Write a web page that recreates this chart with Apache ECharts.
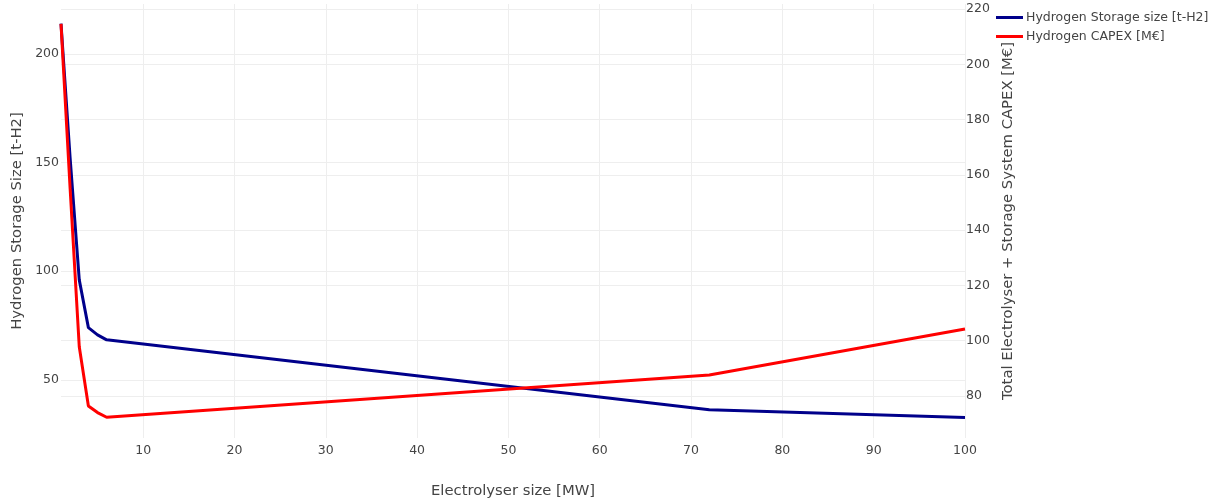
<!DOCTYPE html>
<html>
<head>
<meta charset="utf-8">
<script src="https://cdn.jsdelivr.net/npm/echarts@6/dist/echarts.min.js"></script>
<style>
  html, body { margin: 0; padding: 0; background: #fff; }
  #main { width: 1212px; height: 501px; }
</style>
</head>
<body>
<div id="main"></div>
<script>
// electrolyser size [MW]
const electrolyser = [1, 2, 3, 4, 5, 6, 72, 100];
// hydrogen storage size [t-H2] (left axis)
const storageSize = [214, 152, 96, 74, 70.7, 68.4, 36.2, 32.6];
// total CAPEX [M€] (right axis)
const capex = [214.6, 155, 97.8, 76.4, 74.0, 72.3, 87.6, 104.2];

const xTicks = [10, 20, 30, 40, 50, 60, 70, 80, 90, 100];
const leftTicks = [50, 100, 150, 200];
const rightTicks = [80, 100, 120, 140, 160, 180, 200, 220];

const font = 'DejaVu Sans, Verdana, sans-serif';
const grey = '#444';
const gridColor = '#eeeeee';

const chart = echarts.init(document.getElementById('main'));
chart.setOption({
  animation: false,
  textStyle: {fontFamily: font},
  grid: {left: 61, right: 247, top: 4, bottom: 63, containLabel: false, outerBoundsMode: 'none'},
  legend: {
    left: 991, top: 6, orient: 'vertical',
    icon: 'rect', itemWidth: 27, itemHeight: 3, itemGap: 6,
    textStyle: {color: grey, fontSize: 12.5, fontFamily: font, padding: [0, 0, 0, -2]},
    data: ['Hydrogen Storage size [t-H2]', 'Hydrogen CAPEX [M€]']
  },
  xAxis: {
    type: 'value', min: 1, max: 100,
    name: 'Electrolyser size [MW]', nameLocation: 'middle', nameGap: 46,
    nameTextStyle: {color: grey, fontSize: 14.8, fontFamily: font},
    axisLine: {show: false},
    axisTick: {show: false, customValues: xTicks},
    axisLabel: {color: grey, fontSize: 12.5, margin: 6, customValues: xTicks},
    splitLine: {show: true, lineStyle: {color: gridColor, width: 1}}
  },
  yAxis: [
    {
      type: 'value', min: 23.2, max: 223.0, position: 'left',
      name: 'Hydrogen Storage Size [t-H2]', nameLocation: 'middle', nameGap: 32,
      nameTextStyle: {color: grey, fontSize: 14.8, fontFamily: font},
      axisLine: {show: false},
      axisTick: {show: false, customValues: leftTicks},
      axisLabel: {color: grey, fontSize: 12.5, margin: 2, customValues: leftTicks},
      splitLine: {show: true, lineStyle: {color: gridColor, width: 1}}
    },
    {
      type: 'value', min: 64.8, max: 221.8, position: 'right',
      name: 'Total Electrolyser + Storage System CAPEX [M€]', nameLocation: 'middle', nameGap: 36,
      nameTextStyle: {color: grey, fontSize: 14.8, fontFamily: font},
      axisLine: {show: false},
      axisTick: {show: false, customValues: rightTicks},
      axisLabel: {color: grey, fontSize: 12.5, margin: 1, customValues: rightTicks},
      splitLine: {show: true, lineStyle: {color: gridColor, width: 1}}
    }
  ],
  series: [
    {
      name: 'Hydrogen Storage size [t-H2]', type: 'line', yAxisIndex: 0,
      symbol: 'none', color: '#00008b',
      lineStyle: {width: 3, color: '#00008b'},
      data: electrolyser.map((x, i) => [x, storageSize[i]])
    },
    {
      name: 'Hydrogen CAPEX [M€]', type: 'line', yAxisIndex: 1,
      symbol: 'none', color: '#ff0000',
      lineStyle: {width: 3, color: '#ff0000'},
      data: electrolyser.map((x, i) => [x, capex[i]])
    }
  ]
});
</script>
</body>
</html>
